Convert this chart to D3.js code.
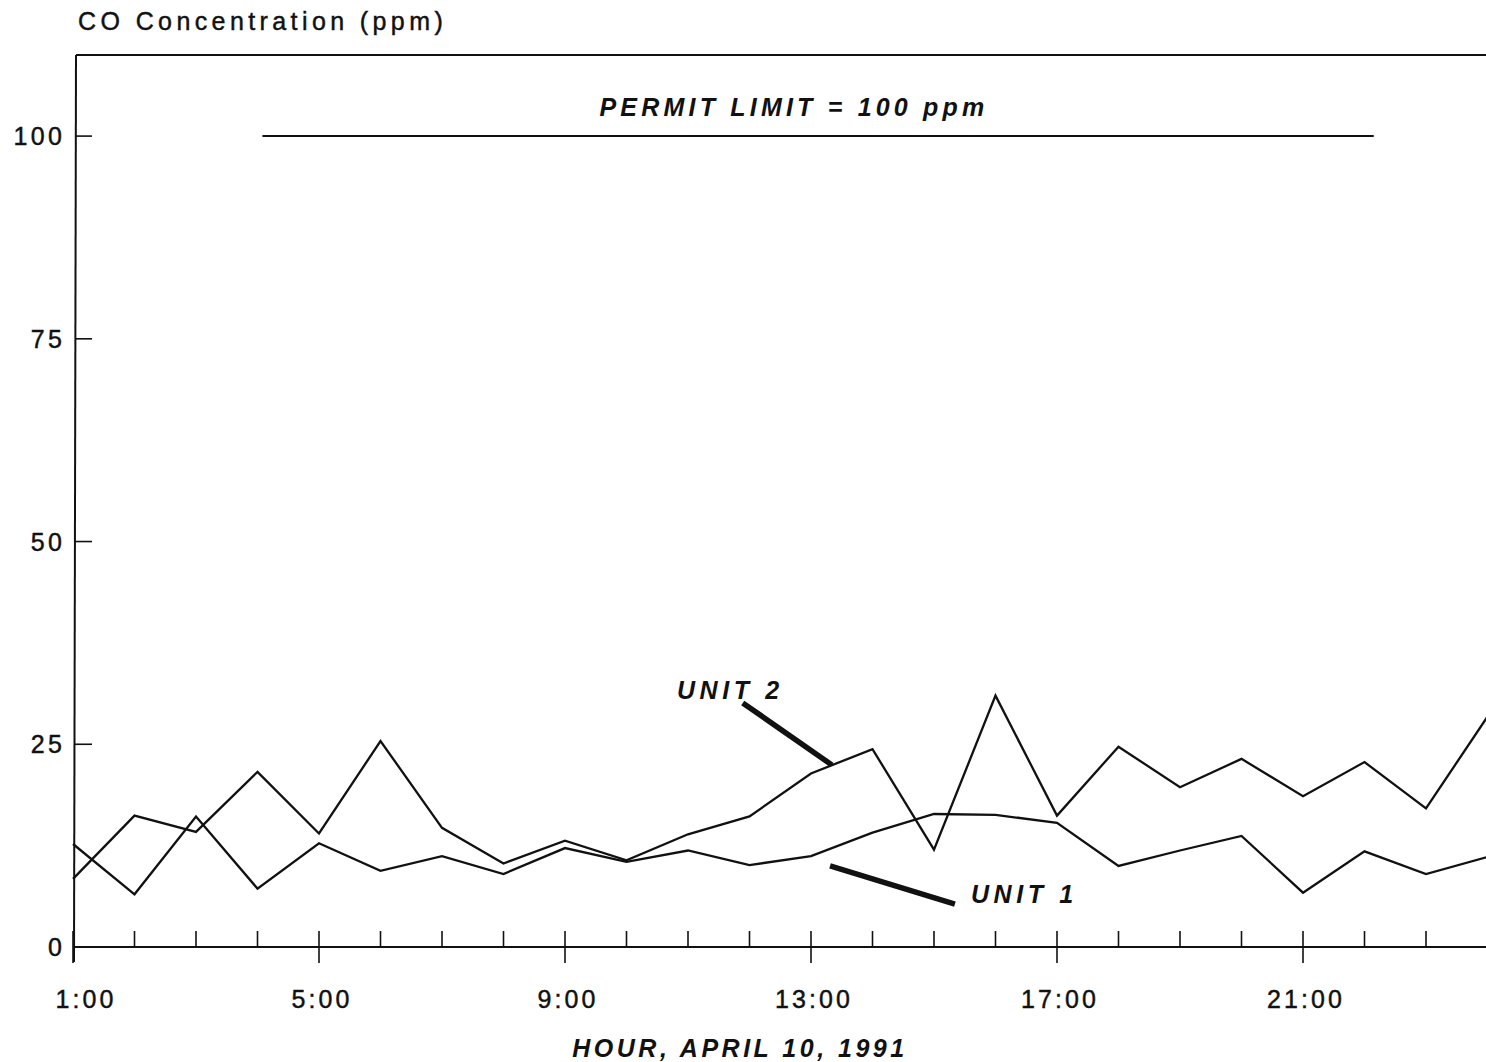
<!DOCTYPE html>
<html>
<head>
<meta charset="utf-8">
<script src="https://cdn.jsdelivr.net/npm/d3@7"></script>
<style>
  html, body { margin: 0; padding: 0; background: #fff; }
  svg { display: block; }
  text { font-family: "Liberation Sans", Arial, sans-serif; fill: #111; }
  text.reg { stroke: #111; stroke-width: 0.45px; }
</style>
</head>
<body>
<svg id="chart" width="1486" height="1062"></svg>
<script>
// ---- data ----
const hours = [1,2,3,4,5,6,7,8,9,10,11,12,13,14,15,16,17,18,19,20,21,22,23,24];
const unit2 = [8.4,16.2,14.2,21.6,14.0,25.4,14.7,10.3,13.1,10.7,13.9,16.1,21.4,24.4,12.0,31.0,16.2,24.7,19.7,23.2,18.6,22.8,17.1,28.4];
const unit1 = [12.7,6.5,16.1,7.2,12.8,9.4,11.2,9.0,12.2,10.5,11.9,10.1,11.2,14.1,16.4,16.3,15.3,10.0,11.9,13.7,6.7,11.8,9.0,11.1];
const yTicks = [0,25,50,75,100];
const xLabelHours = [1,5,9,13,17,21];
const xLabels = ["1:00","5:00","9:00","13:00","17:00","21:00"];
const permitLimit = 100;
const permitSpan = [4.08, 22.15];
const permitText = "PERMIT LIMIT = 100 ppm";
const yTitle = "CO Concentration (ppm)";
const xTitle = "HOUR, APRIL 10, 1991";
// annotation: label anchor and pointer segment in data units
const unitNotes = [
  {label: "UNIT 2", tx: 10.82, ty: 30.6, x1: 11.89, y1: 30.1, x2: 13.34, y2: 22.45},
  {label: "UNIT 1", tx: 15.6, ty: 5.4, x1: 13.31, y1: 10.0, x2: 15.34, y2: 5.3}
];

// ---- scales ----
const svg = d3.select("#chart");
const x = d3.scaleLinear().domain([1, 24]).range([73, 1487.5]);
const y = d3.scaleLinear().domain([0, 110]).range([947, 55]);

// frame top line
svg.append("line").attr("x1", 76).attr("x2", 1486).attr("y1", y(110)).attr("y2", y(110))
  .attr("stroke", "#111").attr("stroke-width", 1.8);

// y axis line (extends a bit below x axis)
svg.append("line").attr("x1", 74).attr("x2", 76).attr("y1", 962).attr("y2", y(110))
  .attr("stroke", "#111").attr("stroke-width", 2);

// y ticks (inward)
svg.append("g").selectAll("line").data(yTicks).join("line")
  .attr("x1", 75).attr("x2", 92).attr("y1", d => y(d)).attr("y2", d => y(d))
  .attr("stroke", "#111").attr("stroke-width", 1.6);
svg.append("g").selectAll("text").data(yTicks).join("text")
  .attr("class", "reg")
  .attr("x", 65.4).attr("y", d => y(d)).attr("dy", "0.36em")
  .attr("text-anchor", "end").style("font-size", "25px").style("letter-spacing", "3.4px")
  .text(d => d);

// x axis line
svg.append("line").attr("x1", 73).attr("x2", 1486).attr("y1", y(0)).attr("y2", y(0))
  .attr("stroke", "#111").attr("stroke-width", 2);
// x ticks
svg.append("g").selectAll("line").data(hours).join("line")
  .attr("x1", d => x(d)).attr("x2", d => x(d))
  .attr("y1", y(0) - 16)
  .attr("y2", d => xLabelHours.includes(d) ? y(0) + 16 : y(0))
  .attr("stroke", "#111").attr("stroke-width", 1.6);
svg.append("g").selectAll("text").data(xLabelHours).join("text")
  .attr("class", "reg")
  .attr("x", (d, i) => x(d) + (i === 0 ? 13 : 3)).attr("y", 1008)
  .attr("text-anchor", "middle").style("font-size", "25px").style("letter-spacing", "3.1px")
  .text((d, i) => xLabels[i]);

// titles
svg.append("text").attr("class", "reg").attr("x", 78).attr("y", 30)
  .style("font-size", "25px").style("letter-spacing", "4.4px").text(yTitle);
svg.append("text").attr("x", 740).attr("y", 1057).attr("text-anchor", "middle")
  .style("font-size", "25px").style("font-weight", "bold").style("font-style", "italic")
  .style("letter-spacing", "3.5px").text(xTitle);

// permit limit
svg.append("line").attr("x1", x(permitSpan[0])).attr("x2", x(permitSpan[1]))
  .attr("y1", y(permitLimit)).attr("y2", y(permitLimit))
  .attr("stroke", "#111").attr("stroke-width", 2);
svg.append("text").attr("x", 794).attr("y", 116).attr("text-anchor", "middle")
  .style("font-size", "25px").style("font-weight", "bold").style("font-style", "italic")
  .style("letter-spacing", "4.2px").text(permitText);

// series lines
const line = d3.line().x((d, i) => x(hours[i])).y(d => y(d));
[unit1, unit2].forEach(s => {
  svg.append("path").datum(s).attr("d", line)
    .attr("fill", "none").attr("stroke", "#111").attr("stroke-width", 2.3)
    .attr("stroke-linejoin", "miter");
});

// annotations
unitNotes.forEach(n => {
  svg.append("line").attr("x1", x(n.x1)).attr("y1", y(n.y1)).attr("x2", x(n.x2)).attr("y2", y(n.y2))
    .attr("stroke", "#111").attr("stroke-width", 5.5);
  svg.append("text").attr("x", x(n.tx)).attr("y", y(n.ty))
    .style("font-size", "25px").style("font-weight", "bold").style("font-style", "italic")
    .style("letter-spacing", "4.6px").text(n.label);
});
</script>
</body>
</html>
